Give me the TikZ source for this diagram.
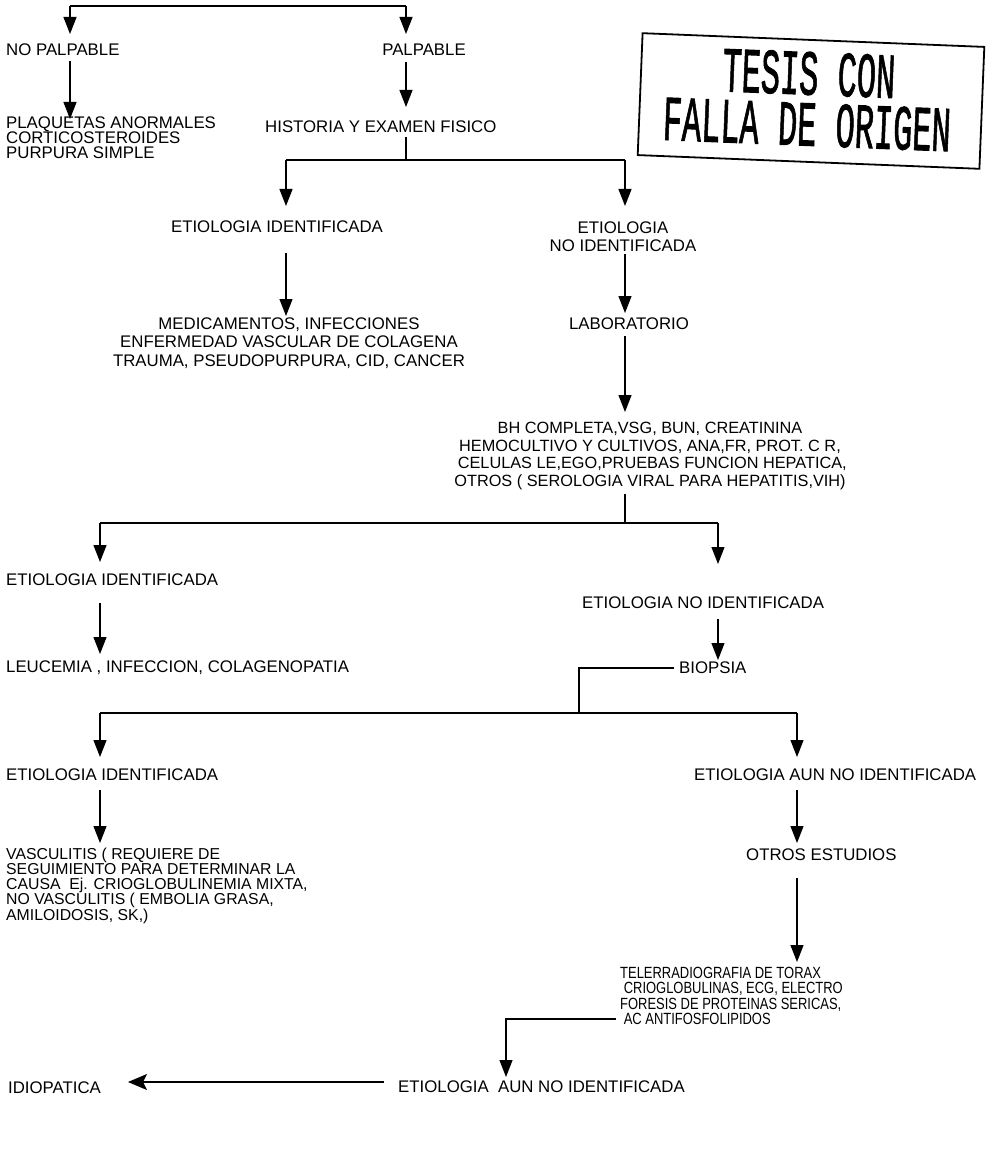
\documentclass[tikz,border=0pt]{standalone}
\usepackage{fontspec}
\usepackage{graphicx}
\setmainfont{Liberation Sans}
\newfontfamily\narrowfont{Liberation Sans}[FakeStretch=0.8]
\newfontfamily\stampfont{Liberation Mono}[FakeBold=1.6]
\usetikzlibrary{arrows.meta}
\begin{document}
\begin{tikzpicture}[x=1pt,y=-1pt,
  txt/.style={inner sep=0pt, font=\fontsize{16.8}{17}\selectfont},
  blk/.style={txt, font=\fontsize{16.8}{#1}\selectfont},
  ln/.style={line width=1.2pt},
  arr/.style={ln, -{Triangle[length=17pt,width=13pt]}},
  larr/.style={ln, -{Stealth[length=19pt,width=16pt,inset=4pt]}},
  stampbox/.style={draw, line width=1.8pt, minimum width=342pt, minimum height=122pt, inner sep=0pt, rotate=-2.3},
  stamptxt/.style={inner sep=0pt, rotate=-2.3, align=center, font=\stampfont\fontsize{64}{51}\selectfont}
]
\useasboundingbox (0,0) rectangle (991,1150);

% nodes
\node[txt, anchor=west] (np) at (6,50) {NO PALPABLE};
\node[txt] (pa) at (424,50) {PALPABLE};
\node[blk=15, anchor=west, align=left] (plq) at (6,138) {PLAQUETAS ANORMALES\\CORTICOSTEROIDES\\PURPURA SIMPLE};
\node[txt, anchor=west] (hist) at (265,127) {HISTORIA Y EXAMEN FISICO};
\node[txt] (e1) at (277,227) {ETIOLOGIA IDENTIFICADA};
\node[blk=18, align=center] (e1r) at (623,237) {ETIOLOGIA\\NO IDENTIFICADA};
\node[blk=18.5, align=center] (med) at (289,343) {MEDICAMENTOS, INFECCIONES\\ENFERMEDAD VASCULAR DE COLAGENA\\TRAUMA, PSEUDOPURPURA, CID, CANCER};
\node[txt] (lab) at (629,324) {LABORATORIO};
\node[align=center, inner sep=0pt, font=\fontsize{16.3}{17.5}\selectfont] (bh) at (650,456) {BH COMPLETA,VSG, BUN, CREATININA\\HEMOCULTIVO Y CULTIVOS, ANA,FR, PROT. C R,\\\ CELULAS LE,EGO,PRUEBAS FUNCION HEPATICA,\\OTROS ( SEROLOGIA VIRAL PARA HEPATITIS,VIH)};
\node[txt, anchor=west] (e2) at (6,580) {ETIOLOGIA IDENTIFICADA};
\node[txt, anchor=west] (e2r) at (582,603) {ETIOLOGIA NO IDENTIFICADA};
\node[txt, anchor=west] (leu) at (6,668) {LEUCEMIA , INFECCION, COLAGENOPATIA};
\node[txt, anchor=west] (bio) at (679,668) {BIOPSIA};
\node[txt, anchor=west] (e3) at (6,775) {ETIOLOGIA IDENTIFICADA};
\node[txt, anchor=west] (e3r) at (694,775) {ETIOLOGIA AUN NO IDENTIFICADA};
\node[anchor=west, align=left, inner sep=0pt, font=\fontsize{15.8}{14.7}\selectfont] (vas) at (6,886) {VASCULITIS ( REQUIERE DE\\SEGUIMIENTO PARA DETERMINAR LA\\CAUSA\ \ Ej. CRIOGLOBULINEMIA MIXTA,\\NO VASCULITIS ( EMBOLIA GRASA,\\AMILOIDOSIS, SK,)};
\node[txt, anchor=west] (ot) at (746,855) {OTROS ESTUDIOS};
\node[anchor=west, align=left, inner sep=0pt, font=\narrowfont\fontsize{16.2}{15.5}\selectfont] (tele) at (620,996) {TELERRADIOGRAFIA DE TORAX\\\ CRIOGLOBULINAS, ECG, ELECTRO\\FORESIS DE PROTEINAS SERICAS,\\\ AC ANTIFOSFOLIPIDOS};
\node[txt, anchor=west] (e4) at (398,1087) {ETIOLOGIA\ \ AUN NO IDENTIFICADA};
\node[txt, anchor=west] (idio) at (8,1088) {IDIOPATICA};

% stamp
\node[stampbox] (stamp) at (811,101) {};
\node[stamptxt] (st) at (808,99) {\scalebox{0.5}[1]{TESIS CON}\\\scalebox{0.5}[1]{FALLA DE ORIGEN}};

% junction coordinates
\coordinate (t1) at (70,6);
\coordinate (t2) at (406,6);
\coordinate (j1) at (406,160);
\coordinate (j1l) at (286,160);
\coordinate (j1r) at (625,160);
\coordinate (j2) at (625,523);
\coordinate (j2l) at (100,523);
\coordinate (j2r) at (718,523);
\coordinate (bl) at (674,668);
\coordinate (j3a) at (579,668);
\coordinate (j3) at (579,713);
\coordinate (j3l) at (100,713);
\coordinate (j3r) at (797,713);
\coordinate (tl) at (616,1019);
\coordinate (j4) at (506,1019);
\coordinate (el) at (384,1082);
\coordinate (ia) at (128,1082);

% connectors
\draw[ln] (t1) -- (t2);
\draw[arr] (t1) -- (t1 |- 0,34);
\draw[arr] (t2) -- (t2 |- 0,34);
\draw[arr] (np.south -| t1) ++(0,5) -- (70,119);
\draw[arr] (pa.south -| t2) ++(0,6) -- (406,107);
\draw[ln] (hist.south -| j1) ++(0,4) -- (j1);
\draw[ln] (j1l) -- (j1r);
\draw[arr] (j1l) -- (286,206);
\draw[arr] (j1r) -- (625,206);
\draw[arr] (e1.south -| j1l) ++(0,20) -- (286,316);
\draw[arr] (e1r.south -| j1r) ++(0,2) -- (625,313);
\draw[arr] (lab.south -| j1r) ++(0,6) -- (625,412);
\draw[ln] (bh.south -| j2) ++(0,4) -- (j2);
\draw[ln] (j2l) -- (j2r);
\draw[arr] (j2l) -- (100,562);
\draw[arr] (j2r) -- (718,564);
\draw[arr] (e2.south -| j2l) ++(0,17) -- (100,654);
\draw[arr] (e2r.south -| j2r) ++(0,10) -- (718,660);
\draw[ln] (bl) -- (j3a) -- (j3);
\draw[ln] (j3l) -- (j3r);
\draw[arr] (j3l) -- (100,757);
\draw[arr] (j3r) -- (797,757);
\draw[arr] (e3.south -| j3l) ++(0,9) -- (100,843);
\draw[arr] (e3r.south -| j3r) ++(0,9) -- (797,843);
\draw[arr] (ot.south -| j3r) ++(0,17) -- (797,962);
\draw[arr] (tl) -- (j4) -- (506,1077);
\draw[larr] (el) -- (ia);
\end{tikzpicture}
\end{document}
